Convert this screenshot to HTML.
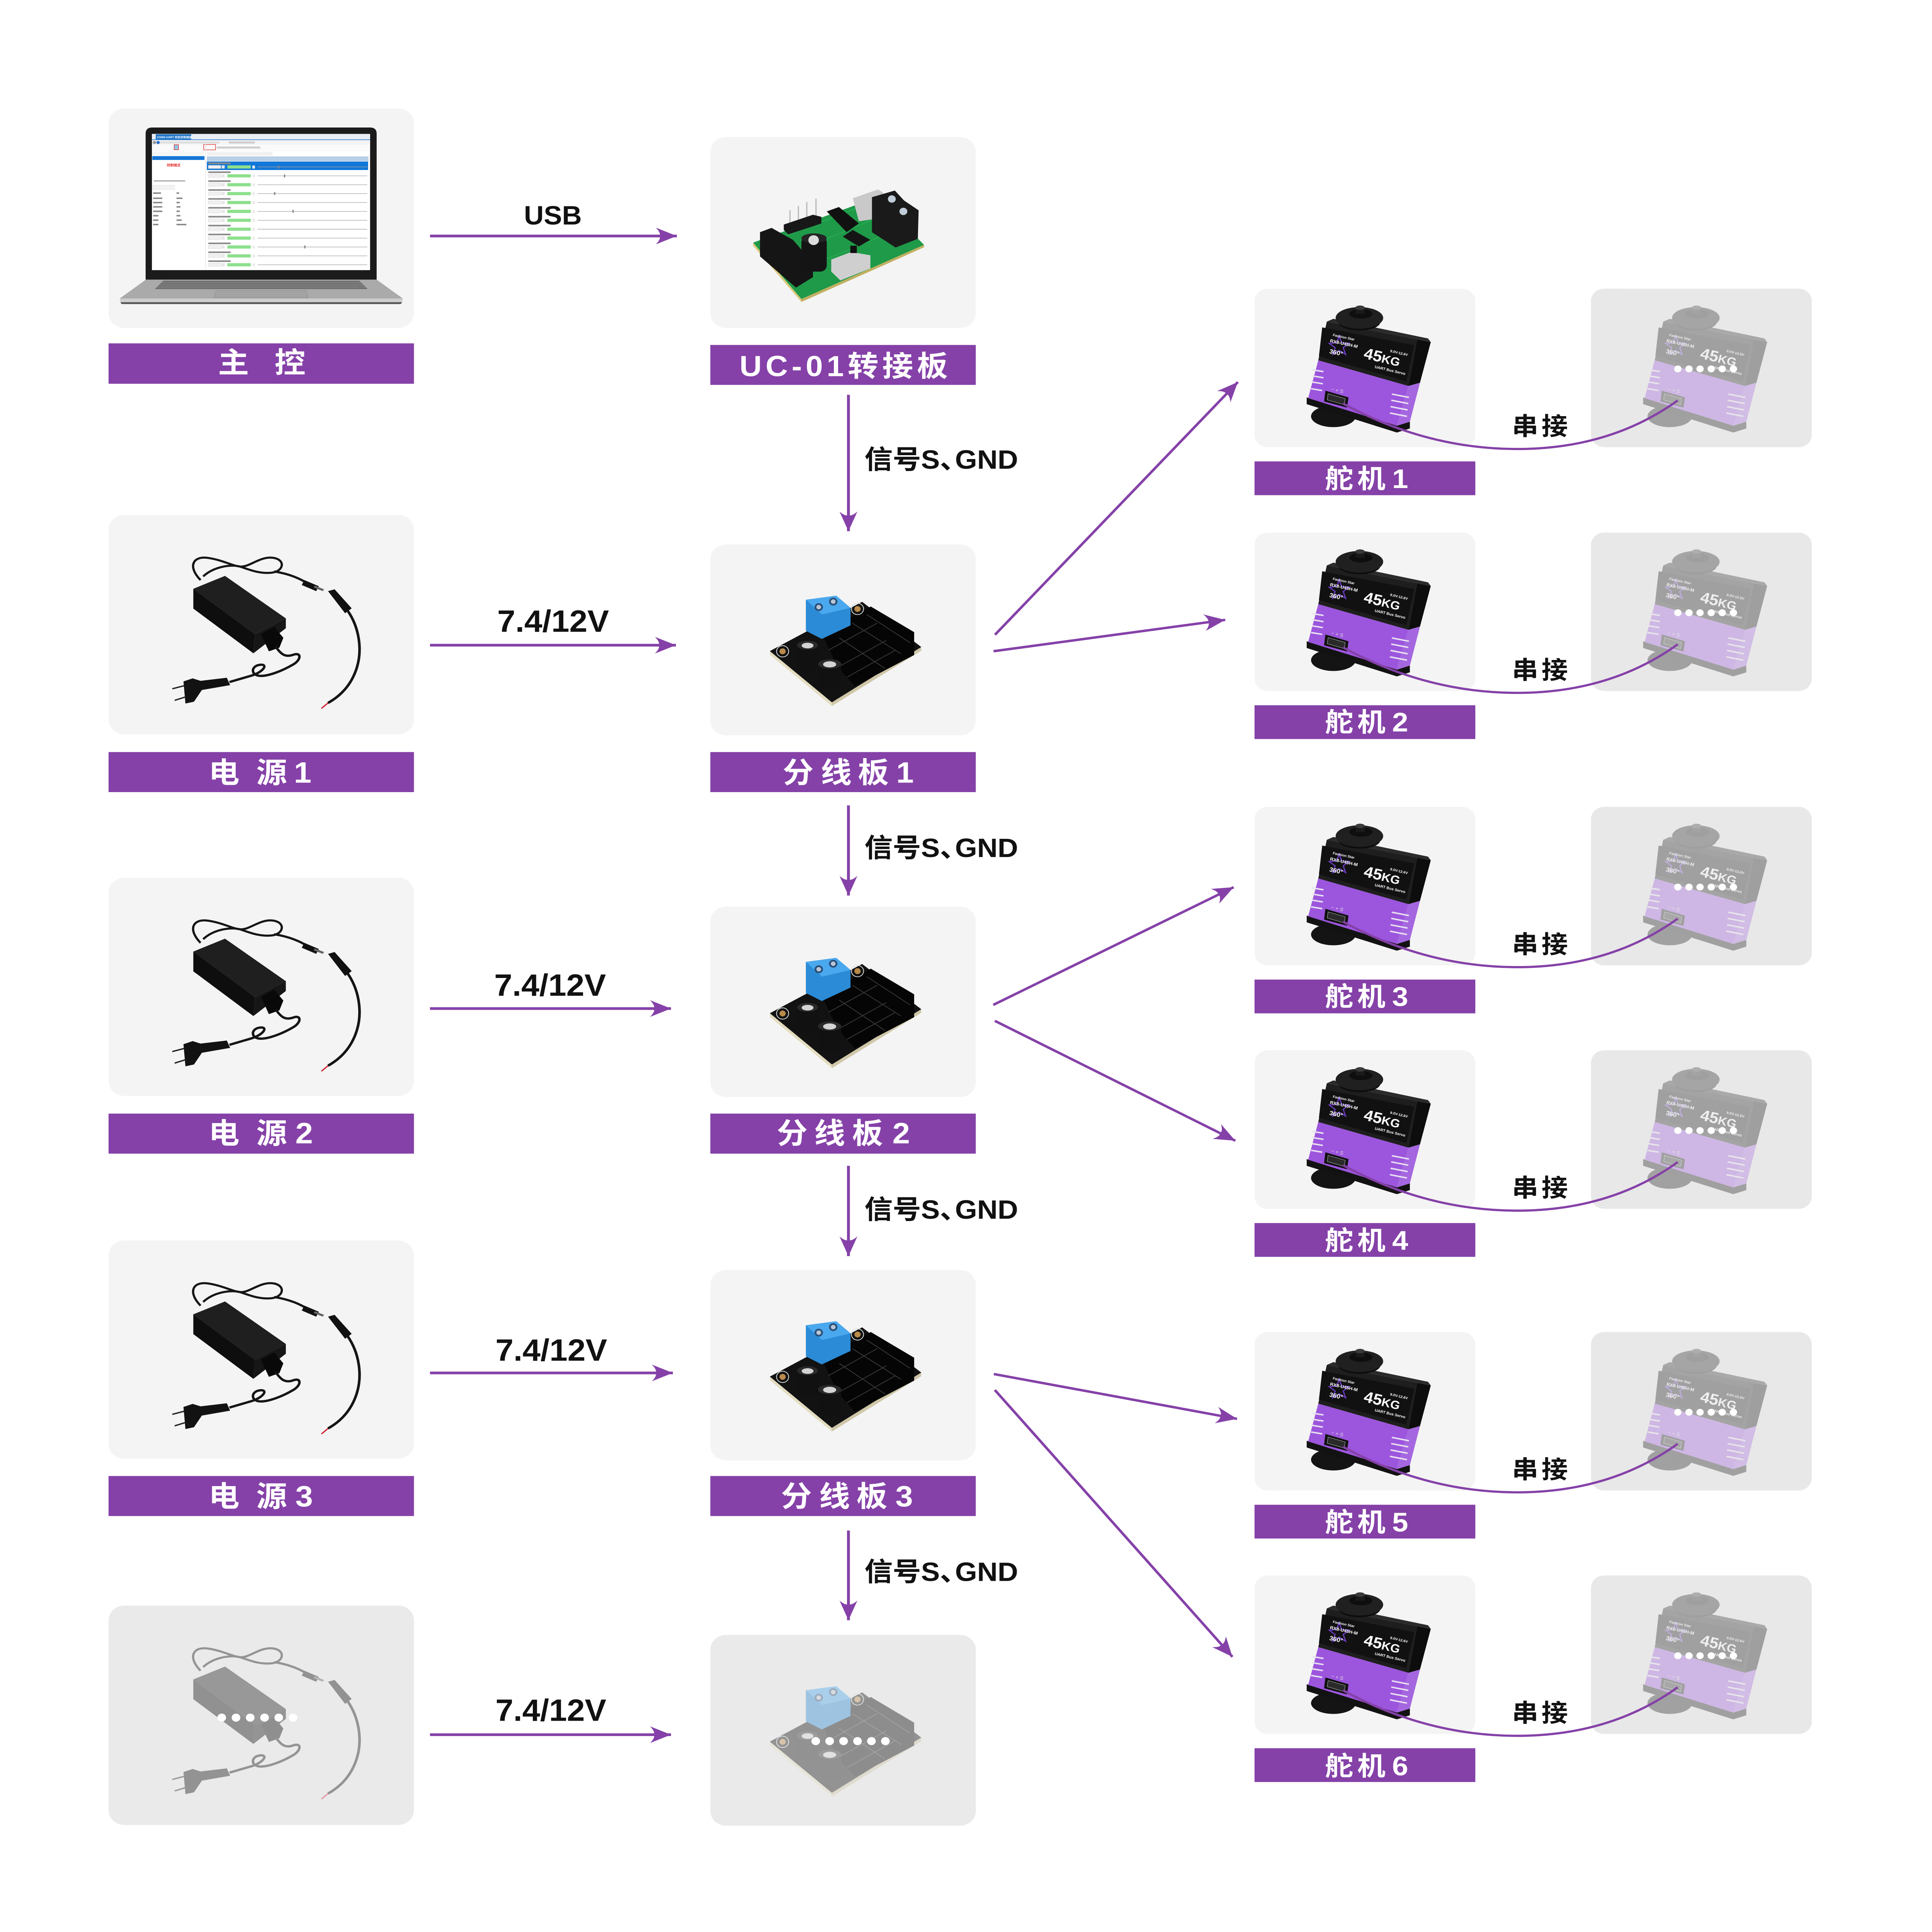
<!DOCTYPE html>
<html><head><meta charset="utf-8"><style>
html,body{margin:0;padding:0;background:#fff;overflow:hidden;width:100vw;height:100vh;}
svg{display:block;width:100vw;height:100vh;}
</style></head><body>
<svg xmlns="http://www.w3.org/2000/svg" width="6833" height="7310" viewBox="0 0 1470.1 1572.7" preserveAspectRatio="none" font-family="'Liberation Sans','Noto Sans CJK SC',sans-serif" font-weight="bold">
<defs>
<marker id="ah" markerUnits="userSpaceOnUse" markerWidth="18" markerHeight="16" viewBox="-17 -8 18 16" refX="0" refY="0" orient="auto">
<path d="M0,0 L-16,-6.8 Q-12,-2.5 -13,0 Q-12,2.5 -16,6.8 Z" fill="#8541a8"/>
</marker>

<g id="adp">
<path d="M70,53 C60,42 64,33 76,35 C88,37 95,42 101,42 C108,42 116,33 126,35 C135,37 133,46 124,47 C114,48 106,44 100,42 C93,40 80,42 72,50" fill="none" stroke="#151515" stroke-width="1.7"/>
<path d="M126,46 C138,48 146,52 152,56" stroke="#151515" stroke-width="1.8" fill="none"/>
<polygon points="149,53 160,58 158,62 147,57" fill="#111"/>
<polygon points="157,57.5 164,60.5 163,62 156,59" fill="#666"/>
<polygon points="167,62 172,60.5 185,76 180,80" fill="#111"/>
<path d="M182,78 C191,92 193,110 189,124 C185,138 177,147 167,153" stroke="#151515" stroke-width="2" fill="none"/>
<path d="M167,153 L162,157.5" stroke="#d02030" stroke-width="1"/>
<polygon points="64.5,60.1 111.5,97.2 110.2,112.6 64.5,76.2" fill="#0e0e0e"/>
<polygon points="111.5,97.2 134.9,84.2 134.9,92.2 110.2,112.6" fill="#161616"/>
<polygon points="64.5,60.1 88.6,49.6 134.9,84.2 111.5,97.2" fill="#1f1f1f"/>
<polygon points="116,97 126,91 133,100 130,108 122,111" fill="#090909"/>
<path d="M127,107 C131,113 134,116 140,114 C147,111 147,118 140,122 C132,127 122,131 116,131 C108,131 108,123 115,122 C122,121 118,128 108,131 L92,136" fill="none" stroke="#151515" stroke-width="1.9"/>
<polygon points="57,135.5 64,133 70,135 90,132.5 92.5,138.5 71,142.5 65,152 58.5,153.5" fill="#121212"/>
<path d="M57.5,139 L48.5,141.5 M59,148 L50.3,150.9" stroke="#222" stroke-width="1.1"/>
</g>

<g id="spl">
<polygon points="45.3,86.8 92.5,128.5 92.5,131.5 45.3,89.8" fill="#e3dcc0"/>
<polygon points="92.5,128.5 160.5,83.5 160.5,86.5 92.5,131.5" fill="#cfc7a8"/>
<polygon points="45.3,86.8 115.5,46.7 160.5,83.5 92.5,128.5" fill="#121212"/>
<polygon points="84.8,72.5 122.1,50.5 155.1,71.4 155.1,90 110,115.3 97,100" fill="#050505"/>
<path d="M97,100 L134,78 M104,108 L141,86 M90,86 L127,64 M108,64 L145,89 M119,57 L152,80 M98,76 L133,101" stroke="#3a3a3a" stroke-width="0.6" fill="none"/>
<circle cx="55" cy="87" r="4.6" fill="none" stroke="#ddd" stroke-width="0.6"/><circle cx="55" cy="87" r="2.4" fill="#b98a4a"/>
<circle cx="112" cy="52.5" r="4.6" fill="none" stroke="#ddd" stroke-width="0.6"/><circle cx="112" cy="52.5" r="2.4" fill="#b98a4a"/>
<polygon points="72.7,45 95.8,41.7 106.7,51.6 106.7,65.9 84.8,76.9 72.7,70.3" fill="#2b8bd6"/>
<polygon points="72.7,45 95.8,41.7 106.7,51.6 85,57" fill="#4aa8ee"/>
<circle cx="82.5" cy="51" r="3.2" fill="#2a4f7a"/><circle cx="82.5" cy="51" r="1.8" fill="#b9c6d6"/>
<circle cx="93.5" cy="46.5" r="3.2" fill="#2a4f7a"/><circle cx="93.5" cy="46.5" r="1.8" fill="#b9c6d6"/>
<rect x="66.1" y="81.3" width="15.9" height="20.8" rx="4" fill="#111"/>
<ellipse cx="74" cy="82" rx="7.9" ry="3.6" fill="#2a2a2a"/><ellipse cx="74" cy="82.3" rx="4.5" ry="2.3" fill="#d4d4d4"/>
<rect x="82" y="96.6" width="17.6" height="20.9" rx="4" fill="#111"/>
<ellipse cx="90.8" cy="97.3" rx="8.8" ry="3.8" fill="#2a2a2a"/><ellipse cx="90.8" cy="97.6" rx="5" ry="2.5" fill="#d4d4d4"/>
</g>

<g id="srv">
<ellipse cx="60" cy="103.9" rx="17" ry="8.8" fill="#141414"/>
<polygon points="39.7,88.5 108.3,111.6 118.2,108.3 118.2,113.8 108.3,117.1 39.7,94" fill="#121212"/>
<polygon points="48.5,58.3 117.1,79.2 108.3,111.6 40.8,89.1" fill="#9c55dd"/>
<polygon points="117.1,79.2 125.9,76.5 118.2,108.3 108.3,111.6" fill="#a567e0"/>
<polygon points="55,26.8 123.7,41.3 117.1,79.2 48.5,58.3" fill="#1e1e1e"/>
<polygon points="123.7,41.3 134.1,43.5 125.9,76.5 117.1,79.2" fill="#0d0d0d"/>
<polygon points="55,26.8 60,24.5 132,40.5 134.1,43.5 123.7,41.3" fill="#2b2b2b"/>
<polygon points="51.5,31.5 121.5,46 115.5,75.5 49,55" fill="#111"/>
<ellipse cx="79.8" cy="27" rx="16" ry="7" fill="#0d0d0d"/>
<ellipse cx="79.8" cy="23.8" rx="18.1" ry="8.8" fill="#202020"/>
<ellipse cx="80.9" cy="20.5" rx="8.8" ry="3.8" fill="#0e0e0e"/>
<rect x="76.9" y="15.5" width="7" height="5" fill="#1a1a1a"/>
<ellipse cx="80.3" cy="15.5" rx="3.6" ry="1.8" fill="#3a3a3a"/>
<path d="M44,66 L52.5,67.5 M44,71 L52.5,72.5 M43.5,75.9 L52,77.4 M43,81.4 L51.5,82.9" stroke="#e8e0f0" stroke-width="1.2"/>
<path d="M104.5,85.8 L117.5,88.5 M104,90.8 L117,93.5 M103.5,96 L116.5,98.7 M103,101.2 L116,103.9" stroke="#e8e0f0" stroke-width="1.2"/>
<polygon points="53.9,83 71.5,88.5 70.4,96.8 52.9,91.8" fill="#111"/>
<polygon points="56,85.5 69,89.5 68.3,94.5 55.3,90.5" fill="#2a2a2a" stroke="#bbb" stroke-width="0.3"/>
<polygon points="64.4,38.5 66.3,44 72,44.5 67.5,48 69.3,53.5 64.4,50.3 59.5,53.5 61.3,48 56.8,44.5 62.5,44" fill="none" stroke="#6a3bc0" stroke-width="0.9"/>
<text transform="translate(59.4,38.5) rotate(13)" font-size="2.8" fill="#fff">Fashion Star</text>
<text transform="translate(57.2,43.5) rotate(13)" font-size="3.6" fill="#fff">RX8-U45H-M</text>
<text transform="translate(56.7,52.5) rotate(13)" font-size="5" fill="#fff">360°</text>
<text transform="translate(82.5,56.5) rotate(14)" font-size="12.5" fill="#fff">45<tspan font-size="9.5">KG</tspan></text>
<text transform="translate(103,51.5) rotate(14)" font-size="2.8" fill="#fff">9.0V-12.6V</text>
<text transform="translate(91.3,64.5) rotate(14)" font-size="3" fill="#fff">UART Bus Servo</text>
<text transform="translate(58,83) rotate(13)" font-size="4" fill="#ddd" font-weight="normal">− + S</text>
</g>
</defs>

<rect x="0" y="0" width="1470.1" height="1572.7" fill="#fff"/>

<!-- MAIN CONTROL (laptop) -->
<rect x="82.6" y="88.3" width="232.4" height="178.7" rx="12" fill="#f4f4f4"/>
<polygon points="111,227.6 286.6,227.6 306.5,243 91.1,243" fill="#aaaaaa"/>
<polygon points="91.1,243 306.5,243 306,246 91.6,246" fill="#cdcdcd"/>
<polygon points="91.6,246 306,246 305,247.5 92.5,247.5" fill="#555"/>
<polygon points="124.2,228.5 273.4,228.5 279.8,235.3 117.8,235.3" fill="#6e6e6e"/>
<path d="M122,230.2 L276,230.2 M120.5,231.9 L277.5,231.9 M119.2,233.6 L278.7,233.6" stroke="#9a9a9a" stroke-width="0.35"/>
<polygon points="164.6,236.4 233,236.4 234.4,242.4 162.7,242.4" fill="#a3a3a3" stroke="#8c8c8c" stroke-width="0.3"/>
<path d="M115.8,103.8 H281.6 Q286.6,103.8 286.6,108.8 V227.6 H110.8 V108.8 Q110.8,103.8 115.8,103.8 Z" fill="#1b1b1b"/>
<rect x="115.6" y="109" width="166" height="110.9" fill="#fff"/>
<rect x="115.6" y="109" width="166" height="4.7" fill="#e9eef4"/>
<rect x="118.5" y="109.3" width="27" height="4.4" fill="#1e74c8"/>
<text x="119.3" y="112.5" font-size="2.2" fill="#fff">COM4-UART 舵机控制面板</text>
<rect x="115.6" y="113.5" width="166" height="0.5" fill="#1e74c8"/>
<rect x="115.6" y="114" width="166" height="4" fill="#f4f4f4"/>
<circle cx="117.5" cy="116" r="1.3" fill="#999"/><circle cx="120.3" cy="116" r="1.3" fill="#2a6fc9"/>
<rect x="121.8" y="115.2" width="45" height="1.6" fill="#ddd"/>
<rect x="174" y="115.2" width="20" height="1.6" fill="#ccc"/>
<rect x="115.6" y="118" width="166" height="5.4" fill="#fafafa"/>
<rect x="132.5" y="117.8" width="3.3" height="4.1" fill="#8fc8e8" stroke="#e02020" stroke-width="0.4"/>
<rect x="155" y="117.6" width="9" height="4.4" fill="none" stroke="#e02020" stroke-width="0.4"/>
<rect x="165" y="119.3" width="33" height="1.6" fill="#ccc"/>
<rect x="115.6" y="123.6" width="40" height="3.2" fill="#f6f6f6"/>
<rect x="115.9" y="127.1" width="39.7" height="3.1" fill="#1677d6"/>
<text x="127" y="135.4" font-size="2.6" fill="#e02020">控制模式</text>
<rect x="117" y="147" width="24" height="0.6" fill="#777"/>
<rect x="116.2" y="150.7" width="16.7" height="3.7" fill="#f2f2f2" stroke="#ddd" stroke-width="0.2"/>
<g fill="#888">
<rect x="116.5" y="156.6" width="6" height="1.2"/><rect x="134.3" y="156.6" width="2" height="1.2"/>
<rect x="116.5" y="160.8" width="7" height="1.2"/><rect x="134.3" y="160.8" width="4.5" height="1.2"/>
<rect x="116.5" y="164.3" width="7" height="1.2"/><rect x="134.3" y="164.3" width="2.5" height="1.2"/>
<rect x="116.5" y="167.8" width="7" height="1.2"/><rect x="134.3" y="167.8" width="3" height="1.2"/>
<rect x="116.5" y="171.4" width="7" height="1.2"/><rect x="134.3" y="171.4" width="2.5" height="1.2"/>
<rect x="116.5" y="175" width="4" height="1.2"/><rect x="134.3" y="175" width="3" height="1.2"/>
<rect x="116.5" y="178.6" width="4" height="1.2"/><rect x="134.3" y="178.6" width="4" height="1.2"/>
<rect x="116.5" y="182.2" width="4" height="1.2"/><rect x="134.3" y="182.2" width="7.5" height="1.2"/>
</g>
<rect x="156.2" y="114" width="0.4" height="106" fill="#e4e4e4"/>
<rect x="157.4" y="123.8" width="50" height="2.8" fill="#f0f0f0"/>
<rect x="157.4" y="127.3" width="123" height="3.9" fill="#b9cfe6"/>
<rect x="157.4" y="131.5" width="122.7" height="6.9" fill="#1177d8"/>
<g id="lrow">
<rect x="158.5" y="132.3" width="17" height="1.3" fill="#8a8a8a"/>
<rect x="158.5" y="134.6" width="9.5" height="2.6" fill="#f0f0f0" stroke="#ccc" stroke-width="0.2"/>
<rect x="168.6" y="134.6" width="2.4" height="2.6" fill="#e6e6e6"/>
<rect x="173" y="134.6" width="17.8" height="2.6" fill="#8de08d"/>
<rect x="192" y="134.8" width="2" height="2.4" fill="#ececec"/>
<line x1="196" y1="135.9" x2="279.4" y2="135.9" stroke="#a0a0a0" stroke-width="0.4"/>
</g>
<use href="#lrow" y="7.24"/><use href="#lrow" y="14.48"/><use href="#lrow" y="21.72"/><use href="#lrow" y="28.96"/><use href="#lrow" y="36.2"/><use href="#lrow" y="43.44"/><use href="#lrow" y="50.68"/><use href="#lrow" y="57.92"/><use href="#lrow" y="65.16"/><use href="#lrow" y="72.4"/><use href="#lrow" y="79.64"/>
<g fill="#888"><rect x="211.5" y="134.8" width="1" height="2.4"/><rect x="216" y="142" width="1" height="2.4"/><rect x="208.5" y="156.3" width="1" height="2.4"/><rect x="222.5" y="170.8" width="1" height="2.4"/><rect x="231.5" y="199.8" width="1" height="2.4"/></g>

<rect x="82.6" y="279.5" width="232.4" height="32.9" fill="#8541a8"/>
<text x="177.7" y="303.3" font-size="23.5" fill="#fff" text-anchor="middle">主</text>
<text x="220.7" y="303.3" font-size="23.5" fill="#fff" text-anchor="middle">控</text>

<!-- UC-01 -->
<rect x="540.5" y="111.5" width="202" height="155.5" rx="12" fill="#f4f4f4"/>
<g transform="translate(540.5,111.5)">
<polygon points="32.6,86 69.3,131.9 69.3,134.3 32.6,88.5" fill="#d9c77a"/>
<polygon points="69.3,131.9 162.6,87.8 162.6,89.8 69.3,134.3" fill="#c2b062"/>
<polygon points="32.6,86 127,49 162.6,87.8 69.3,131.9" fill="#1f9a48"/>
<path d="M40,88 L125,52 M50,100 L140,60 M60,112 L150,72" stroke="#2db35a" stroke-width="0.5" fill="none"/>
<polygon points="108.4,49.9 127.6,42.7 131.7,45.4 124.7,66.8 113,68.6" fill="#c9c9c9"/>
<polygon points="123,49 140.4,43.6 147.4,51.7 158.5,59.7 157.9,82.9 141,90 123,77.5" fill="#1a1a1a"/>
<circle cx="138.1" cy="50.5" r="3" fill="#c0ccd8"/><circle cx="146.9" cy="60.6" r="3" fill="#c0ccd8"/>
<path d="M60.6,59.7 V74.8 M67,56.1 V73 M73.4,53 V71.3 M80.4,50.3 V68.6" stroke="#bdbdbd" stroke-width="1"/>
<polygon points="55.9,71.3 78.1,63.3 84.5,65 84.5,70.4 59.4,79.3 55.9,75.7" fill="#181818"/>
<polygon points="88.6,60.6 97.9,57 113,70.4 103.7,77.5" fill="#111"/>
<polygon points="100.8,81.1 108.4,75.7 121.8,83.8 113,89.1" fill="#151515"/>
<polygon points="37.8,77.5 46.6,74 62.9,83.8 78.1,102.5 78.1,114.1 65.2,122.6 37.8,97.2" fill="#151515"/>
<rect x="69.3" y="81" width="19.3" height="28.6" rx="5" fill="#141414"/>
<ellipse cx="78.9" cy="82.5" rx="9.6" ry="4" fill="#242424"/>
<circle cx="78.6" cy="84" r="4" fill="#dcdcdc"/>
<polygon points="92,99.8 107.2,93.6 121.8,96.3 121.8,107 99,116.8 92,109.6" fill="#cfcfcf"/>
<rect x="106.5" y="88.5" width="5" height="6" fill="#111"/>
</g>
<rect x="540.5" y="280.8" width="202" height="32.5" fill="#8541a8"/>
<text x="562.7" y="306.2" font-size="23.5" fill="#fff" textLength="158.5" lengthAdjust="spacing">UC-01转接板</text>

<!-- USB arrow -->
<line x1="327.2" y1="192.1" x2="515" y2="192.1" stroke="#8541a8" stroke-width="2.2" marker-end="url(#ah)"/>
<text x="398.7" y="182.7" font-size="21.5" fill="#111" textLength="44" lengthAdjust="spacingAndGlyphs">USB</text>

<!-- Down arrows -->
<line x1="645.6" y1="321.4" x2="645.6" y2="432.4" stroke="#8541a8" stroke-width="2.2" marker-end="url(#ah)"/>
<line x1="645.6" y1="655.6" x2="645.6" y2="729" stroke="#8541a8" stroke-width="2.2" marker-end="url(#ah)"/>
<line x1="645.6" y1="949" x2="645.6" y2="1022.5" stroke="#8541a8" stroke-width="2.2" marker-end="url(#ah)"/>
<line x1="645.6" y1="1245.9" x2="645.6" y2="1318.9" stroke="#8541a8" stroke-width="2.2" marker-end="url(#ah)"/>
<g font-size="21.5" fill="#111">
<text x="657.8" y="381.5">信号S、</text><text x="726.7" y="381.5" textLength="48" lengthAdjust="spacingAndGlyphs">GND</text>
<text x="657.8" y="697.7">信号S、</text><text x="726.7" y="697.7" textLength="48" lengthAdjust="spacingAndGlyphs">GND</text>
<text x="657.8" y="992">信号S、</text><text x="726.7" y="992" textLength="48" lengthAdjust="spacingAndGlyphs">GND</text>
<text x="657.8" y="1287">信号S、</text><text x="726.7" y="1287" textLength="48" lengthAdjust="spacingAndGlyphs">GND</text>
</g>

<!-- Power rows -->
<rect x="82.6" y="419.2" width="232.4" height="178.5" rx="12" fill="#f4f4f4"/>
<use href="#adp" x="82.6" y="419.2"/>
<rect x="82.6" y="612.2" width="232.4" height="32.6" fill="#8541a8"/>
<text x="170.5" y="637.1" font-size="23.5" fill="#fff" text-anchor="middle">电</text>
<text x="206.7" y="637.1" font-size="23.5" fill="#fff" text-anchor="middle">源</text>
<text x="230.3" y="637.1" font-size="24" fill="#fff" text-anchor="middle">1</text>

<rect x="82.6" y="714.5" width="232.4" height="177.6" rx="12" fill="#f4f4f4"/>
<use href="#adp" x="82.6" y="714.5"/>
<rect x="82.6" y="906.5" width="232.4" height="32.6" fill="#8541a8"/>
<text x="170.5" y="930.7" font-size="23.5" fill="#fff" text-anchor="middle">电</text>
<text x="206.7" y="930.7" font-size="23.5" fill="#fff" text-anchor="middle">源</text>
<text x="231.4" y="930.7" font-size="24" fill="#fff" text-anchor="middle">2</text>

<rect x="82.6" y="1009.8" width="232.4" height="177.6" rx="12" fill="#f4f4f4"/>
<use href="#adp" x="82.6" y="1009.8"/>
<rect x="82.6" y="1201.5" width="232.4" height="32.6" fill="#8541a8"/>
<text x="170.5" y="1226.2" font-size="23.5" fill="#fff" text-anchor="middle">电</text>
<text x="206.7" y="1226.2" font-size="23.5" fill="#fff" text-anchor="middle">源</text>
<text x="231.4" y="1226.2" font-size="24" fill="#fff" text-anchor="middle">3</text>

<rect x="82.6" y="1307" width="232.4" height="178.6" rx="12" fill="#eaeaea"/>
<use href="#adp" x="82.6" y="1307" opacity="0.4"/>
<g fill="#fff"><circle cx="168.7" cy="1398.2" r="3.3"/><circle cx="179.6" cy="1398.2" r="3.3"/><circle cx="190.4" cy="1398.2" r="3.3"/><circle cx="201.3" cy="1398.2" r="3.3"/><circle cx="212.1" cy="1398.2" r="3.3"/><circle cx="223" cy="1398.2" r="3.3"/></g>

<!-- Power arrows -->
<line x1="327.2" y1="525.2" x2="514.3" y2="525.2" stroke="#8541a8" stroke-width="2.2" marker-end="url(#ah)"/>
<line x1="327.2" y1="821" x2="510.6" y2="821" stroke="#8541a8" stroke-width="2.2" marker-end="url(#ah)"/>
<line x1="327.2" y1="1117.6" x2="512" y2="1117.6" stroke="#8541a8" stroke-width="2.2" marker-end="url(#ah)"/>
<line x1="327.2" y1="1412.1" x2="510.6" y2="1412.1" stroke="#8541a8" stroke-width="2.2" marker-end="url(#ah)"/>
<text x="378.4" y="514.3" font-size="25" fill="#111" textLength="85" lengthAdjust="spacingAndGlyphs">7.4/12V</text>
<text x="376.1" y="810.5" font-size="25" fill="#111" textLength="85" lengthAdjust="spacingAndGlyphs">7.4/12V</text>
<text x="377" y="1107.6" font-size="25" fill="#111" textLength="85" lengthAdjust="spacingAndGlyphs">7.4/12V</text>
<text x="377" y="1400.8" font-size="25" fill="#111" textLength="84.3" lengthAdjust="spacingAndGlyphs">7.4/12V</text>

<!-- Splitters -->
<rect x="540.5" y="443.2" width="202" height="155.4" rx="12" fill="#f4f4f4"/>
<use href="#spl" x="540.5" y="443.2"/>
<rect x="540.5" y="612.2" width="202" height="32.6" fill="#8541a8"/>
<text x="607.3" y="637.1" font-size="23.5" fill="#fff" text-anchor="middle">分</text>
<text x="636.3" y="637.1" font-size="23.5" fill="#fff" text-anchor="middle">线</text>
<text x="664.6" y="637.1" font-size="23.5" fill="#fff" text-anchor="middle">板</text>
<text x="688.6" y="637.1" font-size="24" fill="#fff" text-anchor="middle">1</text>

<rect x="540.5" y="738" width="202" height="155" rx="12" fill="#f4f4f4"/>
<use href="#spl" x="540.5" y="738"/>
<rect x="540.5" y="906.5" width="202" height="32.6" fill="#8541a8"/>
<text x="602.8" y="930.7" font-size="23.5" fill="#fff" text-anchor="middle">分</text>
<text x="631.3" y="930.7" font-size="23.5" fill="#fff" text-anchor="middle">线</text>
<text x="660.1" y="930.7" font-size="23.5" fill="#fff" text-anchor="middle">板</text>
<text x="685.7" y="930.7" font-size="24" fill="#fff" text-anchor="middle">2</text>

<rect x="540.5" y="1033.8" width="202" height="155" rx="12" fill="#f4f4f4"/>
<use href="#spl" x="540.5" y="1033.8"/>
<rect x="540.5" y="1201.5" width="202" height="32.6" fill="#8541a8"/>
<text x="606" y="1226.2" font-size="23.5" fill="#fff" text-anchor="middle">分</text>
<text x="635" y="1226.2" font-size="23.5" fill="#fff" text-anchor="middle">线</text>
<text x="663.5" y="1226.2" font-size="23.5" fill="#fff" text-anchor="middle">板</text>
<text x="688" y="1226.2" font-size="24" fill="#fff" text-anchor="middle">3</text>

<rect x="540.5" y="1330.9" width="202" height="155.3" rx="12" fill="#eaeaea"/>
<use href="#spl" x="540.5" y="1330.9" opacity="0.4"/>
<g fill="#fff"><circle cx="620.7" cy="1417.3" r="3.3"/><circle cx="631.3" cy="1417.3" r="3.3"/><circle cx="641.9" cy="1417.3" r="3.3"/><circle cx="652.5" cy="1417.3" r="3.3"/><circle cx="663.1" cy="1417.3" r="3.3"/><circle cx="673.7" cy="1417.3" r="3.3"/></g>

<!-- Servos -->
<g id="srow">
<rect x="954.6" y="235" width="168" height="129" rx="10" fill="#f4f4f4"/>
<use href="#srv" x="954.6" y="235"/>
<rect x="1210.6" y="235" width="168" height="129" rx="10" fill="#e8e8e8"/>
<use href="#srv" x="1210.6" y="235" opacity="0.33"/>
<g fill="#fff"><circle cx="1276.7" cy="300.3" r="2.8"/><circle cx="1285.2" cy="300.3" r="2.8"/><circle cx="1293.6" cy="300.3" r="2.8"/><circle cx="1302.1" cy="300.3" r="2.8"/><circle cx="1310.5" cy="300.3" r="2.8"/><circle cx="1319" cy="300.3" r="2.8"/></g>
<path d="M1022,328.5 Q1084.6,365 1152.6,365.5 Q1224.6,366 1276.6,326" fill="none" stroke="#8541a8" stroke-width="1.8"/>
<text x="1160.5" y="354" font-size="20" fill="#111" text-anchor="middle">串</text>
<text x="1183" y="354" font-size="20" fill="#111" text-anchor="middle">接</text>
<rect x="954.6" y="375.6" width="168" height="27.5" fill="#8541a8"/>
</g>
<use href="#srow" y="198.5"/>
<use href="#srow" y="421.8"/>
<use href="#srow" y="620"/>
<use href="#srow" y="849.3"/>
<use href="#srow" y="1047.5"/>

<g fill="#fff" font-size="21.5" text-anchor="middle">
<text x="1019" y="397.3">舵</text><text x="1043.5" y="397.3">机</text><text x="1065.4" y="397.3" font-size="22">1</text>
<text x="1019" y="595.5">舵</text><text x="1043.5" y="595.5">机</text><text x="1065.4" y="595.5" font-size="22">2</text>
<text x="1019" y="818.7">舵</text><text x="1043.5" y="818.7">机</text><text x="1065.4" y="818.7" font-size="22">3</text>
<text x="1019" y="1017.4">舵</text><text x="1043.5" y="1017.4">机</text><text x="1065.4" y="1017.4" font-size="22">4</text>
<text x="1019" y="1246.7">舵</text><text x="1043.5" y="1246.7">机</text><text x="1065.4" y="1246.7" font-size="22">5</text>
<text x="1019" y="1445.1">舵</text><text x="1043.5" y="1445.1">机</text><text x="1065.4" y="1445.1" font-size="22">6</text>
</g>

<!-- Diagonal arrows -->
<g stroke="#8541a8" stroke-width="2" marker-end="url(#ah)">
<line x1="757.1" y1="516.7" x2="941.9" y2="311"/>
<line x1="756" y1="530.1" x2="932.3" y2="504.6"/>
<line x1="755.8" y1="818" x2="938.7" y2="722.2"/>
<line x1="757" y1="831" x2="940" y2="928.6"/>
<line x1="756.2" y1="1118.5" x2="941.3" y2="1155"/>
<line x1="757" y1="1131.5" x2="937.8" y2="1348.7"/>
</g>
</svg>
</body></html>
